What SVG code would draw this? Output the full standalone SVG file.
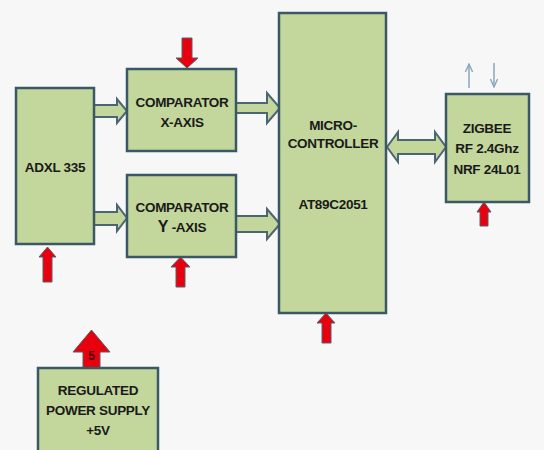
<svg xmlns="http://www.w3.org/2000/svg" width="544" height="450" viewBox="0 0 544 450">
<style>
.box{fill:#c3d69b;stroke:#3b5866;stroke-width:2.5}
.flow{fill:#c3d69b;stroke:#4a6672;stroke-width:2;stroke-linejoin:miter}
.pwr{fill:#e8000f;stroke:#55606a;stroke-width:1}
.t{font-family:"Liberation Sans",Arial,sans-serif;font-weight:bold;font-size:13.5px;letter-spacing:-0.3px;fill:#1a1a1a;text-anchor:middle}
.thin{stroke:#8aa6bf;stroke-width:1.5;fill:none}
</style>
<defs>
<marker id="ah" viewBox="0 0 10 10" refX="9" refY="5" markerWidth="6" markerHeight="6" orient="auto"><path d="M0,1 L9,5 L0,9" fill="none" stroke="#8aa6bf" stroke-width="1.5"/></marker>
</defs>
<rect width="544" height="450" fill="#f7f7f7"/>
<g id="connectors">
<path class="flow" d="M94,105 H117 V99 L127,111 L117,123 V117 H94 Z"/>
<path class="flow" d="M236,103 H267 V93 L280,108 L267,123 V113 H236 Z"/>
<path class="flow" d="M94,212 H117 V205 L127,218 L117,231 V225 H94 Z"/>
<path class="flow" d="M236,216 H267 V209 L280,224 L267,239 V232 H236 Z"/>
<path class="flow" d="M387,147 L398,132 V140 H435 V132 L446,147 L435,162 V154 H398 V162 Z"/>
<path class="pwr" d="M182,38 H192 V58 H198 L187,68 L176,58 H182 Z"/>
<path class="pwr" d="M43,282 V257 H39 L47.5,247 L56,257 H52 V282 Z"/>
<path class="pwr" d="M176,287 V267 H171 L180.5,257 L190,267 H185 V287 Z"/>
<path class="pwr" d="M322,343 V323 H317 L326,313 L335,323 H331 V343 Z"/>
<path class="pwr" d="M480,226 V212 H477 L484,202 L491,212 H488 V226 Z"/>
<path class="pwr" d="M83,368 V352 H73 L91.5,330 L110,352 H100 V368 Z"/>
<text x="91.5" y="360" font-family="Liberation Sans,Arial,sans-serif" font-weight="bold" font-size="12" fill="#4a0505" text-anchor="middle">5</text>
<line class="thin" x1="469" y1="88" x2="469" y2="64" marker-end="url(#ah)"/>
<line class="thin" x1="494" y1="63" x2="494" y2="87" marker-end="url(#ah)"/>
</g>
<g id="adxl">
<rect class="box" x="16" y="88" width="78" height="156"/>
<text class="t" x="55" y="172">ADXL 335</text>
</g>
<g id="compx">
<rect class="box" x="127" y="69" width="109" height="82"/>
<text class="t" x="182" y="107">COMPARATOR</text>
<text class="t" x="182" y="127">X-AXIS</text>
</g>
<g id="compy">
<rect class="box" x="127" y="175" width="109" height="82"/>
<text class="t" x="182" y="212">COMPARATOR</text>
<text class="t" x="182" y="232"><tspan font-size="16">Y</tspan> -AXIS</text>
</g>
<g id="mcu">
<rect class="box" x="279" y="13" width="107" height="300"/>
<text class="t" x="333" y="130">MICRO-</text>
<text class="t" x="333" y="148">CONTROLLER</text>
<text class="t" x="333" y="209">AT89C2051</text>
</g>
<g id="zigbee">
<rect class="box" x="446" y="94" width="83" height="108"/>
<text class="t" x="487" y="133">ZIGBEE</text>
<text class="t" x="487" y="153">RF 2.4Ghz</text>
<text class="t" x="487" y="174">NRF 24L01</text>
</g>
<g id="power">
<rect class="box" x="38" y="368" width="120" height="84"/>
<text class="t" x="98" y="395">REGULATED</text>
<text class="t" x="98" y="415">POWER SUPPLY</text>
<text class="t" x="98" y="435">+5V</text>
</g>
</svg>
